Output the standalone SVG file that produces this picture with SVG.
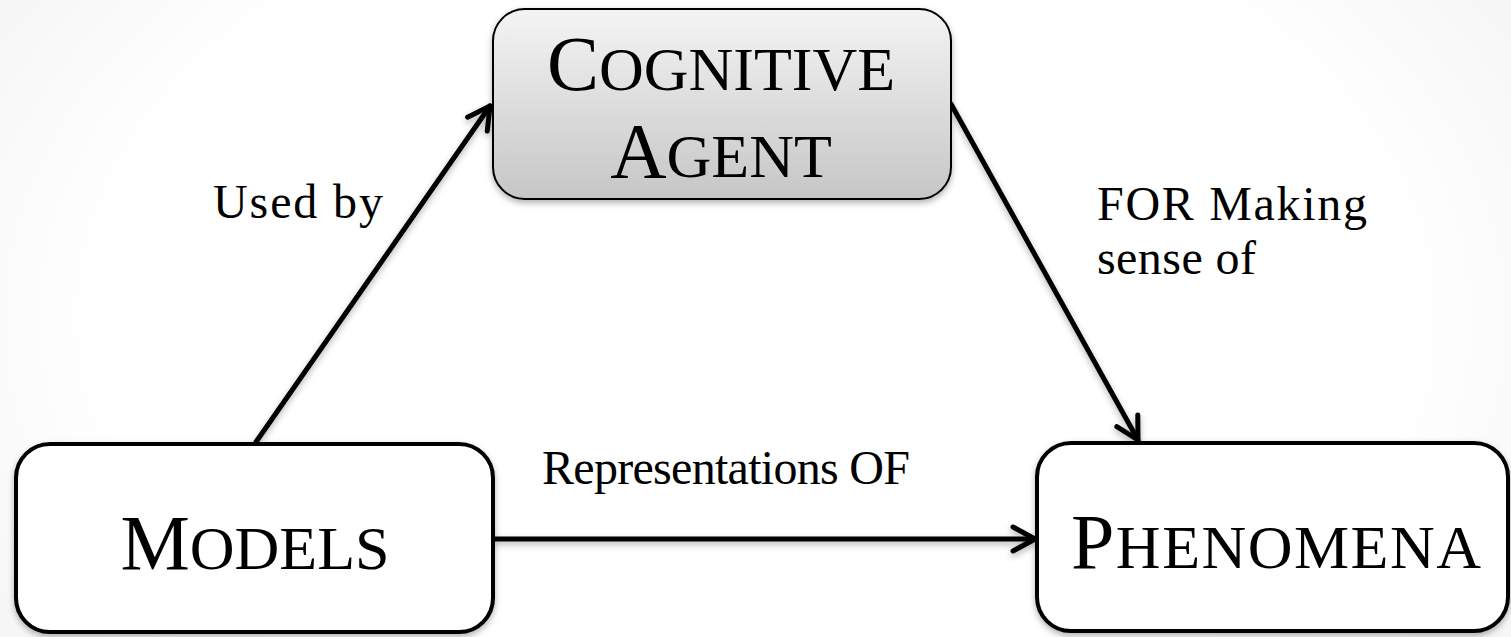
<svg xmlns="http://www.w3.org/2000/svg" width="1511" height="637" viewBox="0 0 1511 637">
<style>
.title{font-family:"Liberation Serif","Times New Roman",serif;font-size:78px;fill:#000;text-anchor:middle}
.sc{font-size:62px}
.lbl{font-family:"Liberation Serif","Times New Roman",serif;font-size:48px;fill:#000}
.box{stroke:#000;stroke-width:4;fill:#fff}
.conn{stroke:#000;stroke-width:5;fill:none;stroke-linecap:round}
</style>
<defs>
<radialGradient id="bg" cx="50%" cy="50%" r="72%" gradientTransform="translate(0.5 0.5) scale(1 1.6) translate(-0.5 -0.5)">
<stop offset="0.6" stop-color="#ffffff"/>
<stop offset="1" stop-color="#eeeeee"/>
</radialGradient>
<linearGradient id="grey" x1="0" y1="0" x2="0" y2="1">
<stop offset="0" stop-color="#f4f4f4"/>
<stop offset="1" stop-color="#c6c6c6"/>
</linearGradient>
<filter id="sh" x="-10%" y="-10%" width="120%" height="130%">
<feDropShadow dx="0" dy="3" stdDeviation="3" flood-color="#000" flood-opacity="0.3"/>
</filter>
<marker id="ah" markerUnits="userSpaceOnUse" markerWidth="40" markerHeight="40" viewBox="-30 -20 40 40" refX="0" refY="0" orient="auto" overflow="visible">
<path d="M-22,-12 L0,0 L-22,12" fill="none" stroke="#000" stroke-width="5" stroke-linecap="round" stroke-linejoin="round"/>
</marker>
</defs>
<rect width="1511" height="637" fill="url(#bg)"/>
<g id="connectors" filter="url(#sh)">
<line class="conn" x1="256" y1="442" x2="490" y2="106" marker-end="url(#ah)"/>
<line class="conn" x1="951" y1="104" x2="1138" y2="440" marker-end="url(#ah)"/>
<line class="conn" x1="495" y1="539" x2="1035" y2="539" marker-end="url(#ah)"/>
</g>
<g id="cognitive-agent">
<rect x="493" y="9" width="458" height="190" rx="32" fill="url(#grey)" stroke="#000" stroke-width="2" filter="url(#sh)"/>
<text class="title" x="721" y="90">C<tspan class="sc">OGNITIVE</tspan></text>
<text class="title" x="721" y="177">A<tspan class="sc">GENT</tspan></text>
</g>
<g id="models">
<rect class="box" x="16" y="444" width="477" height="188" rx="34" filter="url(#sh)"/>
<text class="title" x="255" y="569">M<tspan class="sc">ODELS</tspan></text>
</g>
<g id="phenomena">
<rect class="box" x="1037" y="443" width="471" height="188" rx="34" filter="url(#sh)"/>
<text class="title" x="1276" y="568" textLength="410">P<tspan class="sc">HENOMENA</tspan></text>
</g>
<g id="labels">
<text class="lbl" x="213" y="218" textLength="170">Used by</text>
<text class="lbl" x="1097" y="220" textLength="270">FOR Making</text>
<text class="lbl" x="1097" y="274" textLength="159">sense of</text>
<text class="lbl" x="542" y="484" font-size="45" textLength="368">Representations OF</text>
</g>
</svg>
